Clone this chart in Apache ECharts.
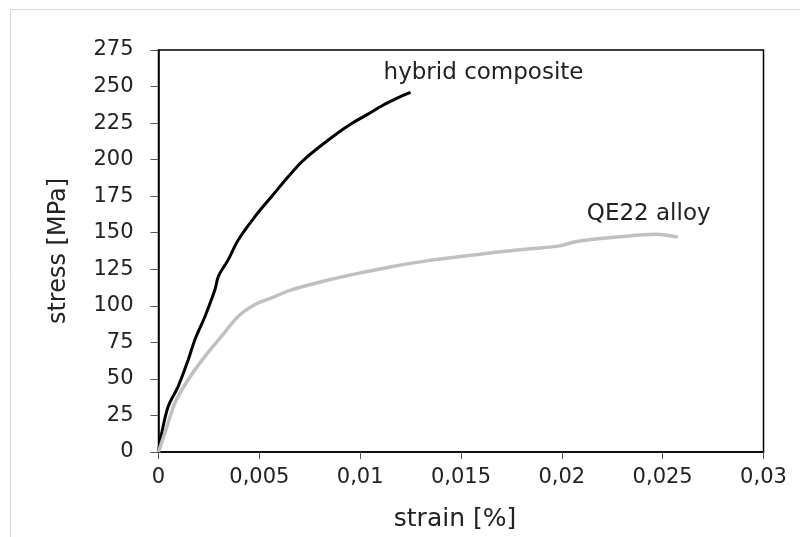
<!DOCTYPE html>
<html>
<head>
<meta charset="utf-8">
<script src="https://cdn.jsdelivr.net/npm/echarts@6/dist/echarts.min.js"></script>
<style>
  html, body { margin: 0; padding: 0; background: #fff; }
  #chart { width: 800px; height: 537px; }
</style>
</head>
<body>
<div id="chart"></div>
<script>
// hybrid composite curve
const hybridStrain = [0, 0.00016, 0.00049, 0.00098, 0.00148, 0.00181, 0.00231, 0.0028, 0.00297, 0.00346,
  0.00396, 0.00479, 0.00561, 0.00644, 0.00726, 0.00867, 0.0095, 0.01032, 0.01115,
  0.01197, 0.0125];
const hybridStress = [0, 13, 31.4, 45, 63.3, 77, 92.9, 111.1, 120.2, 131.6,
  145.2, 161.2, 174.8, 188.5, 200.5, 216, 224, 230.6, 237.4,
  243, 246];

// QE22 alloy curve
const alloyStrain = [0, 0.00032, 0.00082, 0.00148, 0.00231, 0.00313, 0.00396, 0.00479, 0.00561, 0.00652,
  0.00817, 0.00983, 0.01148, 0.01313, 0.01479, 0.01644, 0.01842, 0.0199, 0.02074, 0.02272,
  0.0247, 0.02503, 0.02575];
const alloyStress = [0, 13.2, 33.7, 49.6, 65.6, 79.2, 92.9, 100.9, 105.4, 110.6,
  116.8, 122, 126.6, 130.4, 133.4, 136.2, 139, 141, 144, 147,
  149, 148.6, 147];

const seriesNames = ["hybrid composite", "QE22 alloy"];

const zip = (xs, ys) => xs.map((x, i) => [x, ys[i]]);
const fmt = (v) => String(+v.toFixed(4)).replace(".", ",");

const chart = echarts.init(document.getElementById("chart"));
const font = "DejaVu Sans";

chart.setOption({
  animation: false,
  backgroundColor: "#fff",
  graphic: [
    {
      type: "rect",
      shape: { x: 10.5, y: 9.5, width: 900, height: 700 },
      style: { fill: null, stroke: "#d9d9d9", lineWidth: 1 },
      silent: true,
    },
  ],
  grid: {
    left: 158.5,
    right: 36.5,
    top: 50,
    bottom: 84.3,
    show: true,
    borderColor: "#000",
    borderWidth: 1.5,
    containLabel: false,
  },
  xAxis: {
    type: "value",
    min: 0,
    max: 0.03,
    interval: 0.005,
    name: "strain [%]",
    nameLocation: "middle",
    nameGap: 55,
    nameTextStyle: { fontFamily: font, fontSize: 25, color: "#222", padding: [0, 12, 0, 0] },
    axisLine: { show: true, lineStyle: { color: "#000", width: 1.5 } },
    axisTick: { show: true, length: 7, lineStyle: { color: "#555", width: 1 } },
    axisLabel: {
      margin: 15,
      fontFamily: font,
      fontSize: 21,
      color: "#222",
      formatter: fmt,
    },
    splitLine: { show: false },
  },
  yAxis: {
    type: "value",
    min: 0,
    max: 275,
    interval: 25,
    name: "stress [MPa]",
    nameLocation: "middle",
    nameGap: 88,
    nameTextStyle: { fontFamily: font, fontSize: 24, color: "#222" },
    axisLine: { show: true, lineStyle: { color: "#000", width: 1.5 } },
    axisTick: { show: true, length: 8, lineStyle: { color: "#555", width: 1 } },
    axisLabel: {
      margin: 25,
      fontFamily: font,
      fontSize: 21,
      color: "#222",
    },
    splitLine: { show: false },
  },
  series: [
    {
      name: seriesNames[0],
      type: "line",
      data: zip(hybridStrain, hybridStress),
      showSymbol: false,
      smooth: 0.35,
      lineStyle: { color: "#000", width: 3 },
      endLabel: {
        show: true,
        formatter: "{a}",
        fontFamily: font,
        fontSize: 23,
        color: "#222",
        align: "left",
        offset: [-35, -19],
      },
    },
    {
      name: seriesNames[1],
      type: "line",
      data: zip(alloyStrain, alloyStress),
      showSymbol: false,
      smooth: 0.35,
      lineStyle: { color: "#c0c0c0", width: 3.5 },
      endLabel: {
        show: true,
        formatter: "{a}",
        fontFamily: font,
        fontSize: 23,
        color: "#222",
        align: "left",
        offset: [-99, -23],
      },
    },
  ],
});
</script>
</body>
</html>
